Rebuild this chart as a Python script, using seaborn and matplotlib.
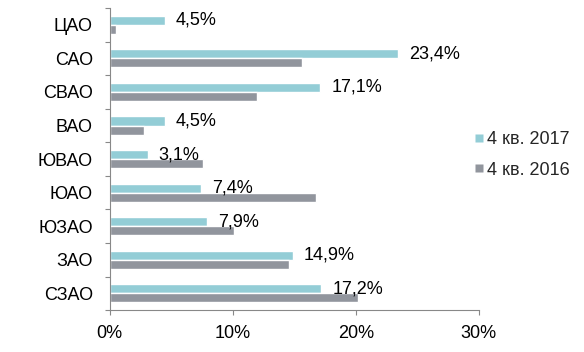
import numpy as np
import pandas as pd
import seaborn as sns
import matplotlib.pyplot as plt
from matplotlib.lines import Line2D
from matplotlib.ticker import FixedLocator, PercentFormatter

districts = ['ЦАО', 'САО', 'СВАО', 'ВАО', 'ЮВАО', 'ЮАО', 'ЮЗАО', 'ЗАО', 'СЗАО']
share_2017 = [4.5, 23.4, 17.1, 4.5, 3.1, 7.4, 7.9, 14.9, 17.2]
share_2016 = [0.5, 15.6, 12.0, 2.8, 7.6, 16.8, 10.1, 14.6, 20.2]
series = ['4 кв. 2017', '4 кв. 2016']
colors = ['#93CDD6', '#91959D']
x_ticks = [0, 10, 20, 30]

df = pd.DataFrame({
    'district': districts * 2,
    'value': share_2017 + share_2016,
    'series': [series[0]] * len(districts) + [series[1]] * len(districts),
})

sns.set_style('white')
plt.rcParams['font.family'] = ['Liberation Sans', 'DejaVu Sans']
fs = 13

fig = plt.figure(figsize=(5.84, 3.52), dpi=100)
ax = fig.add_axes([0.1875, 0.119, 0.6325, 0.858])

sns.barplot(data=df, x='value', y='district', hue='series', hue_order=series,
            palette=colors, orient='h', width=0.54, ax=ax, legend=False,
            saturation=1, errorbar=None)

# data labels only for 2017
labels = [f'{v:.1f}%'.replace('.', ',') for v in share_2017]
ax.bar_label(ax.containers[0], labels=labels, padding=8, fontsize=fs, color='black')

ax.set_xlim(0, 30)
ax.set_ylim(len(districts) - 0.5, -0.5)
ax.xaxis.set_major_locator(FixedLocator(x_ticks))
ax.xaxis.set_major_formatter(PercentFormatter(decimals=0))
ax.set_xlabel('')
ax.set_ylabel('')

# ticks at category boundaries
ax.yaxis.set_minor_locator(FixedLocator(np.arange(-0.5, len(districts), 1)))
ax.tick_params(axis='y', which='major', length=0, pad=12, labelsize=fs, labelcolor='black')
ax.tick_params(axis='y', which='minor', length=3.6, width=0.8, color='#888888', left=True)
ax.tick_params(axis='x', which='major', length=3.6, width=0.8, color='#888888', bottom=True,
               pad=7, labelsize=fs, labelcolor='black')

for side in ['top', 'right']:
    ax.spines[side].set_visible(False)
for side in ['left', 'bottom']:
    ax.spines[side].set_color('#888888')
    ax.spines[side].set_linewidth(0.8)

handles = [Line2D([], [], marker='s', linestyle='none', markersize=5.2,
                  markerfacecolor=c, markeredgecolor='none') for c in colors]
fig.legend(handles, series, loc='center left', bbox_to_anchor=(0.785, 0.56),
           frameon=False, fontsize=fs, handlelength=0.5,
           handletextpad=0.2, labelspacing=0.75)

plt.savefig('out.png', dpi=100)
